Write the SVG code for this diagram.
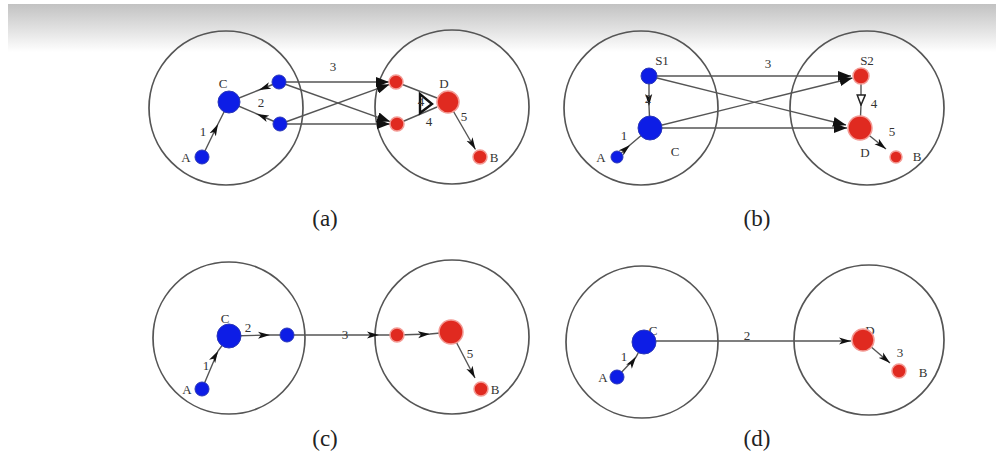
<svg xmlns="http://www.w3.org/2000/svg" width="996" height="468" viewBox="0 0 996 468">
<defs>
<linearGradient id="band" x1="0" y1="0" x2="0" y2="1">
<stop offset="0" stop-color="#c2c2c2"/>
<stop offset="0.6" stop-color="#e6e6e6"/>
<stop offset="1" stop-color="#ffffff"/>
</linearGradient>
<marker id="arr" markerUnits="userSpaceOnUse" viewBox="0 0 12 8" refX="12" refY="4" markerWidth="12" markerHeight="8" orient="auto">
<path d="M0,0.5 L12,4 L0,7.5 L3,4 z" fill="#111"/>
</marker>
<marker id="big" markerUnits="userSpaceOnUse" viewBox="0 0 13 10" refX="13" refY="5" markerWidth="13" markerHeight="10" orient="auto">
<path d="M0,0 L13,5 L0,10 z" fill="#111"/>
</marker>
<marker id="open" markerUnits="userSpaceOnUse" viewBox="0 0 12 10" refX="11" refY="5" markerWidth="12" markerHeight="10" orient="auto">
<path d="M1,1 L11,5 L1,9 z" fill="#fff" stroke="#222" stroke-width="1.5"/>
</marker>
</defs>
<style>
.ring{fill:none;stroke:#555;stroke-width:1.7}
.e{fill:none;stroke:#555;stroke-width:1.4}
.m{marker-mid:url(#arr)}
.end{marker-end:url(#arr)}
.bend{marker-end:url(#big)}
.blue{fill:#0d1de6;stroke:#2a37b8;stroke-width:1}
.red{fill:#e02a20;stroke:#f39a94;stroke-width:1.5}
.t{font-family:"Liberation Serif",serif;font-size:13px;fill:#333;text-anchor:middle}
.cap{font-family:"Liberation Serif",serif;font-size:23px;fill:#222;text-anchor:middle}
</style>
<rect x="0" y="0" width="996" height="468" fill="#fff"/>
<rect x="8" y="4" width="988" height="48" fill="url(#band)"/>

<g id="rings">
<circle class="ring" cx="226" cy="108" r="77"/>
<circle class="ring" cx="452" cy="107" r="77"/>
<circle class="ring" cx="641" cy="108" r="77"/>
<circle class="ring" cx="867" cy="108" r="77"/>
<circle class="ring" cx="229" cy="338" r="76"/>
<circle class="ring" cx="452" cy="337" r="77"/>
<circle class="ring" cx="642" cy="342" r="76"/>
<circle class="ring" cx="869" cy="340" r="75"/>
</g>

<g id="connectors">
<!-- (a) -->
<polyline class="e m" points="202,157 218,124 229,102"/>
<polyline class="e m" points="279,82 259,90 229,102"/>
<polyline class="e m" points="280,124 257,114 229,102"/>
<line class="e bend" x1="279" y1="82" x2="389" y2="82"/>
<line class="e bend" x1="279" y1="82" x2="390" y2="121.6"/>
<line class="e bend" x1="280" y1="124" x2="389.4" y2="84.4"/>
<line class="e bend" x1="280" y1="124" x2="390" y2="124"/>
<line class="e" x1="396" y1="82" x2="437" y2="98"/>
<line class="e" x1="397" y1="124" x2="437" y2="107"/>
<polygon points="420,94 420,113 432,104" fill="#fff" stroke="#111" stroke-width="2.4"/>
<line class="e end" x1="448" y1="102" x2="475.5" y2="149.5"/>
<!-- (b) -->
<line class="e bend" x1="649" y1="76" x2="851" y2="76"/>
<line class="e bend" x1="649" y1="76" x2="846" y2="125"/>
<line class="e bend" x1="650" y1="128" x2="852.5" y2="78"/>
<line class="e bend" x1="650" y1="128" x2="847" y2="128"/>
<polyline class="e m" points="649,76 649,106 650,128"/>
<polyline class="e m" points="617,157 630,145 650,128"/>
<polyline class="e" points="861,76 861,105 860,128" style="marker-mid:url(#open)"/>
<line class="e end" x1="860" y1="128" x2="886" y2="149"/>
<!-- (c) -->
<polyline class="e m" points="202,389 218,351 229,336"/>
<polyline class="e m" points="229,336 270,335 287,335"/>
<polyline class="e m" points="287,335 379,335 397,335"/>
<polyline class="e m" points="397,335 430,334 451,332"/>
<line class="e end" x1="451" y1="332" x2="475" y2="378"/>
<!-- (d) -->
<polyline class="e m" points="617,377 636,357 644,342"/>
<line class="e end" x1="644" y1="341" x2="851" y2="341"/>
<line class="e end" x1="863" y1="340" x2="890" y2="363"/>
</g>

<g id="labels">
<text class="t" x="223" y="88">C</text>
<text class="t" x="203" y="136">1</text>
<text class="t" x="261" y="107">2</text>
<text class="t" x="333" y="71">3</text>
<text class="t" x="444" y="88">D</text>
<text class="t" x="421" y="106" font-size="10">4</text>
<text class="t" x="429" y="126" font-size="11">4</text>
<text class="t" x="464" y="121">5</text>
<text class="t" x="186" y="162">A</text>
<text class="t" x="494" y="162">B</text>

<text class="t" x="662" y="65">S1</text>
<text class="t" x="867" y="65">S2</text>
<text class="t" x="768" y="68">3</text>
<text class="t" x="648" y="103">2</text>
<text class="t" x="624" y="140" font-size="10">1</text>
<text class="t" x="874" y="108">4</text>
<text class="t" x="892" y="136">5</text>
<text class="t" x="675" y="156">C</text>
<text class="t" x="865" y="157">D</text>
<text class="t" x="601" y="162">A</text>
<text class="t" x="917" y="161">B</text>

<text class="t" x="225" y="323" font-size="18">C</text>
<text class="t" x="248" y="332">2</text>
<text class="t" x="206" y="370">1</text>
<text class="t" x="345" y="339">3</text>
<text class="t" x="470" y="358">5</text>
<text class="t" x="187" y="394">A</text>
<text class="t" x="495" y="394">B</text>

<text class="t" x="653" y="335" font-size="11">C</text>
<text class="t" x="624" y="361" font-size="11">1</text>
<text class="t" x="603" y="382" font-size="11">A</text>
<text class="t" x="747" y="340">2</text>
<text class="t" x="870" y="335" font-size="11">D</text>
<text class="t" x="900" y="357">3</text>
<text class="t" x="923" y="377">B</text>
</g>

<g id="nodes">
<g id="a-A"><circle class="blue" cx="202" cy="157" r="7"/></g>
<g id="a-C"><circle class="blue" cx="229" cy="102" r="11"/></g>
<g id="a-U"><circle class="blue" cx="279" cy="82" r="7"/></g>
<g id="a-L"><circle class="blue" cx="280" cy="124" r="7"/></g>
<g id="a-R1"><circle class="red" cx="396" cy="82" r="7"/></g>
<g id="a-R2"><circle class="red" cx="397" cy="124" r="7"/></g>
<g id="a-D"><circle class="red" cx="448" cy="102" r="11"/></g>
<g id="a-B"><circle class="red" cx="480" cy="157" r="7"/></g>

<g id="b-S1"><circle class="blue" cx="649" cy="76" r="8"/></g>
<g id="b-C"><circle class="blue" cx="650" cy="128" r="12"/></g>
<g id="b-A"><circle class="blue" cx="617" cy="157" r="6"/></g>
<g id="b-S2"><circle class="red" cx="861" cy="76" r="8"/></g>
<g id="b-D"><circle class="red" cx="860" cy="128" r="12"/></g>
<g id="b-B"><circle class="red" cx="896" cy="157" r="6"/></g>

<g id="c-C"><circle class="blue" cx="229" cy="336" r="12"/></g>
<g id="c-A"><circle class="blue" cx="202" cy="389" r="7"/></g>
<g id="c-N"><circle class="blue" cx="287" cy="335" r="7"/></g>
<g id="c-R"><circle class="red" cx="397" cy="335" r="7"/></g>
<g id="c-D"><circle class="red" cx="451" cy="332" r="12"/></g>
<g id="c-B"><circle class="red" cx="481" cy="389" r="7"/></g>

<g id="d-C"><circle class="blue" cx="644" cy="342" r="12"/></g>
<g id="d-A"><circle class="blue" cx="617" cy="377" r="7"/></g>
<g id="d-D"><circle class="red" cx="863" cy="340" r="11"/></g>
<g id="d-B"><circle class="red" cx="899" cy="371" r="7"/></g>
</g>

<g id="captions">
<text class="cap" x="325" y="226">(a)</text>
<text class="cap" x="757" y="226">(b)</text>
<text class="cap" x="325" y="446">(c)</text>
<text class="cap" x="757" y="446">(d)</text>
</g>
</svg>
